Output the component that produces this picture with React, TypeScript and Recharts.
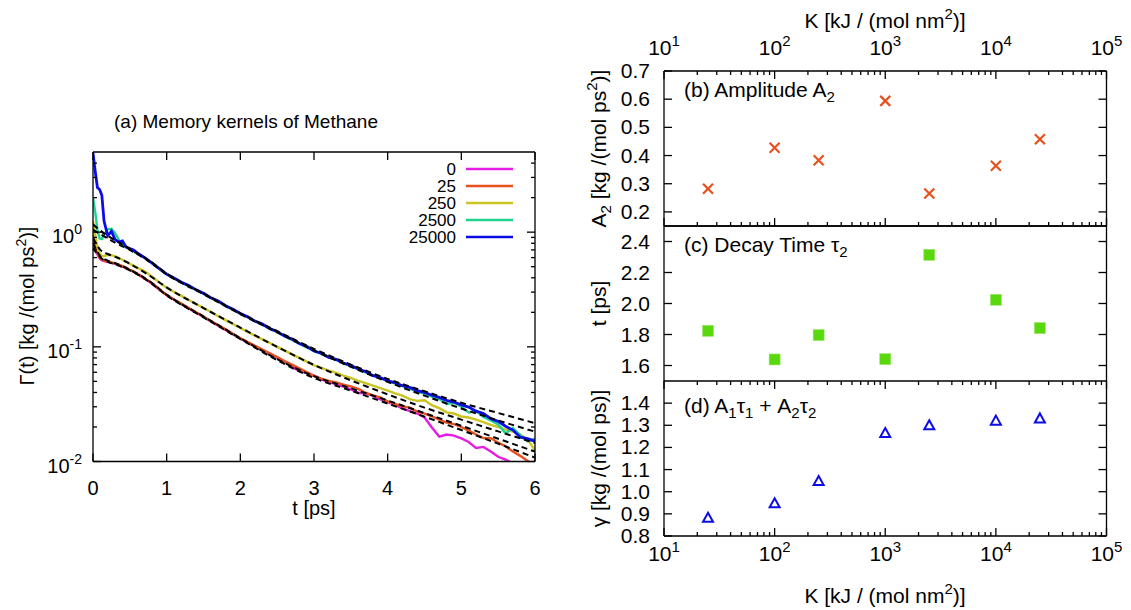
import { LineChart, Line, ScatterChart, Scatter, XAxis, YAxis } from 'recharts'

const INK = '#000000'
const FONT = '"Liberation Sans", Arial, Helvetica, sans-serif'

// (a) memory kernels on a shared time grid [ps]
const times = [
  0, 0.03, 0.06, 0.09, 0.12, 0.15, 0.2, 0.25, 0.3, 0.35, 0.4, 0.45, 0.5, 0.55, 0.6,
  0.7, 0.8, 0.9, 1.0,
  1.1, 1.2, 1.3, 1.4, 1.5, 1.6, 1.7, 1.8, 1.9, 2.0,
  2.1, 2.2, 2.3, 2.4, 2.5, 2.6, 2.7, 2.8, 2.9, 3.0,
  3.1, 3.2, 3.3, 3.4, 3.5, 3.6, 3.7, 3.8, 3.9, 4.0,
  4.1, 4.2, 4.3, 4.4, 4.5, 4.6, 4.7, 4.8, 4.9, 5.0,
  5.1, 5.2, 5.3, 5.4, 5.5, 5.6, 5.7, 5.8, 5.9, 6.0,
]

const kernel0 = [
  0.9, 0.74, 0.64, 0.59, 0.57, 0.56, 0.55, 0.54, 0.53, 0.515, 0.5, 0.485, 0.468, 0.452, 0.433,
  0.393, 0.357, 0.316, 0.281,
  0.257, 0.236, 0.216, 0.198, 0.182, 0.166, 0.153, 0.14, 0.129, 0.118,
  0.109, 0.101, 0.0935, 0.0862, 0.0805, 0.0738, 0.0672, 0.0615, 0.059, 0.056,
  0.052, 0.0492, 0.0472, 0.045, 0.0425, 0.0398, 0.0392, 0.0375, 0.0348, 0.033,
  0.0312, 0.029, 0.0275, 0.0262, 0.0242, 0.0198, 0.0165, 0.0172, 0.0168, 0.0159,
  0.0148, 0.0131, 0.0134, 0.0122, 0.011, 0.0104, 0.0096, 0.0092, 0.0088, 0.0085,
]
const kernel25 = [
  0.95, 0.78, 0.66, 0.6, 0.575, 0.565, 0.555, 0.545, 0.535, 0.52, 0.505, 0.49, 0.47, 0.455, 0.435,
  0.395, 0.36, 0.318, 0.283,
  0.259, 0.238, 0.218, 0.2, 0.184, 0.168, 0.155, 0.142, 0.13, 0.119,
  0.11, 0.102, 0.0948, 0.0878, 0.0815, 0.0752, 0.07, 0.0648, 0.0602, 0.0558,
  0.0528, 0.0505, 0.049, 0.0468, 0.0452, 0.043, 0.0398, 0.0378, 0.0362, 0.0335,
  0.0318, 0.0302, 0.0295, 0.0272, 0.0262, 0.0248, 0.0232, 0.0218, 0.0212, 0.02,
  0.0186, 0.0172, 0.016, 0.016, 0.0146, 0.0136, 0.0122, 0.0112, 0.0101, 0.0093,
]
const kernel250 = [
  1.25, 0.95, 0.74, 0.65, 0.615, 0.62, 0.63, 0.63, 0.615, 0.595, 0.575, 0.55, 0.53, 0.51, 0.49,
  0.455, 0.41, 0.365, 0.327,
  0.301, 0.278, 0.256, 0.236, 0.218, 0.201, 0.185, 0.171, 0.158, 0.146,
  0.135, 0.125, 0.116, 0.108, 0.1, 0.093, 0.086, 0.08, 0.0742, 0.0688,
  0.0655, 0.062, 0.0592, 0.056, 0.0535, 0.0505, 0.0482, 0.0458, 0.0436, 0.0416,
  0.0392, 0.0375, 0.035, 0.0338, 0.0342, 0.031, 0.0292, 0.0268, 0.0262, 0.0247,
  0.0242, 0.0232, 0.022, 0.0209, 0.02, 0.019, 0.0182, 0.0172, 0.0155, 0.0125,
]
const kernel2500 = [
  2.0, 1.5, 1.05, 0.88, 0.87, 0.95, 1.06, 1.07, 0.98, 0.86, 0.78, 0.74, 0.71, 0.68, 0.65,
  0.6, 0.535, 0.478, 0.428,
  0.395, 0.365, 0.338, 0.313, 0.29, 0.267, 0.249, 0.228, 0.211, 0.194,
  0.181, 0.167, 0.156, 0.144, 0.134, 0.124, 0.115, 0.107, 0.099, 0.092,
  0.0868, 0.0812, 0.0768, 0.0722, 0.068, 0.064, 0.06, 0.0568, 0.0535, 0.0505,
  0.0478, 0.0456, 0.0432, 0.0405, 0.0392, 0.0368, 0.035, 0.0318, 0.0325, 0.03,
  0.0268, 0.0275, 0.0245, 0.0228, 0.021, 0.0176, 0.0196, 0.017, 0.015, 0.0158,
]
const kernel25000 = [
  4.9, 3.4, 2.45, 2.35, 2.1, 1.25, 0.93, 1.02, 0.86, 0.82, 0.84, 0.74, 0.72, 0.7, 0.66,
  0.6, 0.54, 0.48, 0.43,
  0.398, 0.366, 0.342, 0.314, 0.293, 0.268, 0.251, 0.228, 0.213, 0.195,
  0.183, 0.167, 0.158, 0.144, 0.136, 0.124, 0.117, 0.107, 0.101, 0.092,
  0.088, 0.081, 0.078, 0.072, 0.069, 0.064, 0.061, 0.056, 0.054, 0.0505,
  0.0488, 0.0458, 0.0443, 0.0415, 0.0401, 0.0378, 0.0362, 0.0341, 0.033, 0.0312,
  0.0298, 0.0275, 0.0262, 0.0236, 0.0224, 0.0203, 0.0188, 0.0163, 0.0158, 0.015,
]

const kernelNames = ['0', '25', '250', '2500', '25000']
const kernelColors = ['#e41ce4', '#e8501e', '#cbc422', '#1ed490', '#0c0ce6']
const kernelValues = [kernel0, kernel25, kernel250, kernel2500, kernel25000]

// dashed two-exponential fits
const fitTimes = [0, 0.1, 0.2, 0.3, 0.5, 0.75, 1, 1.5, 2, 2.5, 3, 3.5, 4, 4.5, 5, 5.5, 6]
const fit0 = [0.73, 0.6, 0.55, 0.525, 0.465, 0.375, 0.281, 0.181, 0.117, 0.0765, 0.0535, 0.0415, 0.032, 0.0246, 0.0188, 0.0143, 0.0108]
const fit25 = [0.8, 0.615, 0.565, 0.535, 0.47, 0.38, 0.285, 0.184, 0.119, 0.078, 0.0555, 0.0435, 0.034, 0.0264, 0.0205, 0.0158, 0.0122]
const fit250 = [0.89, 0.7, 0.645, 0.61, 0.53, 0.425, 0.33, 0.218, 0.147, 0.1, 0.0695, 0.051, 0.0385, 0.0295, 0.0232, 0.0183, 0.0145]
const fit2500 = [1.05, 0.96, 0.88, 0.81, 0.7, 0.562, 0.428, 0.288, 0.193, 0.134, 0.093, 0.067, 0.0495, 0.0375, 0.029, 0.0228, 0.0182]
const fit25000 = [1.17, 1.03, 0.93, 0.85, 0.715, 0.572, 0.436, 0.292, 0.196, 0.137, 0.096, 0.07, 0.0525, 0.041, 0.0325, 0.0265, 0.0216]
const fitValues = [fit0, fit25, fit250, fit2500, fit25000]

// (b)-(d) fit parameters against spring constant K
const kValues = [25, 100, 250, 1000, 2500, 10000, 25000]
const amplitudeA2 = [0.282, 0.428, 0.383, 0.594, 0.265, 0.364, 0.458]
const decayTau2 = [1.824, 1.639, 1.796, 1.641, 2.314, 2.024, 1.841]
const frictionGamma = [0.882, 0.948, 1.048, 1.265, 1.3, 1.321, 1.331]

// ticks
const timeTicks = [0, 1, 2, 3, 4, 5, 6]
const kernelDecades = [0.01, 0.1, 1]
const kernelMinor = [0.02, 0.03, 0.04, 0.05, 0.06, 0.07, 0.08, 0.09, 0.2, 0.3, 0.4, 0.5, 0.6, 0.7, 0.8, 0.9, 2, 3, 4]
const kDecades = [10, 100, 1000, 10000, 100000]
const kMinor = [
  20, 30, 40, 50, 60, 70, 80, 90,
  200, 300, 400, 500, 600, 700, 800, 900,
  2000, 3000, 4000, 5000, 6000, 7000, 8000, 9000,
  20000, 30000, 40000, 50000, 60000, 70000, 80000, 90000,
]
const a2Ticks = [0.2, 0.3, 0.4, 0.5, 0.6, 0.7]
const tauTicks = [1.6, 1.8, 2.0, 2.2, 2.4]
const gammaTicks = [0.8, 0.9, 1.0, 1.1, 1.2, 1.3, 1.4]

const legendRows = [169, 186, 203, 220, 237]

const kernelRows = times.map((t, i) => {
  const row: Record<string, number> = { t }
  kernelNames.forEach((n, j) => {
    row['k' + n] = kernelValues[j][i]
  })
  return row
})
const fitRows = fitValues.map((vals) => fitTimes.map((t, i) => ({ t, v: vals[i] })))
const pointsOf = (vals: number[]) => kValues.map((k, i) => ({ k, v: vals[i] }))

const frameStroke = { stroke: INK, strokeWidth: 1.3 }

// top and right frame lines (mirror axes take no space)
function frameLines(xDomain: number[], yDomain: number[], xScale: any, yScale: any) {
  return [
    <XAxis key="fx" xAxisId="fx" orientation="top" mirror type="number" scale={xScale} domain={xDomain}
      allowDataOverflow tick={false} tickLine={false} axisLine={frameStroke} />,
    <YAxis key="fy" yAxisId="fy" orientation="right" mirror type="number" scale={yScale} domain={yDomain}
      allowDataOverflow tick={false} tickLine={false} axisLine={frameStroke} />,
  ]
}

const exponent = (v: number) => Math.round(Math.log10(v))
const mark = (key: string, x1: number, y1: number, x2: number, y2: number) => (
  <line key={key} x1={x1} y1={y1} x2={x2} y2={y2} stroke={INK} strokeWidth={1.3} />
)

// y tick: inward marks on both frame edges (gnuplot mirror), label for major values
const yTick = (left: number, right: number, major: number[], label: (v: number, x: number, y: number) => any) =>
  (p: any) => {
    const v = p.payload.value
    const isMajor = major.includes(v)
    const len = isMajor ? 8 : 4
    return (
      <g>
        {mark('l', left, p.y, left + len, p.y)}
        {mark('r', right, p.y, right - len, p.y)}
        {isMajor && label(v, p.x, p.y)}
      </g>
    )
  }

// x tick: inward marks on both frame edges, optional label
const xTick = (top: number, bottom: number, major: number[], label?: (v: number, x: number, y: number) => any) =>
  (p: any) => {
    const v = p.payload.value
    const isMajor = major.includes(v)
    const len = isMajor ? 8 : 4
    return (
      <g>
        {mark('t', p.x, top, p.x, top + len)}
        {mark('b', p.x, bottom, p.x, bottom - len)}
        {isMajor && label && label(v, p.x, p.y)}
      </g>
    )
  }

const powerLabel = (size: number, dy: number, anchor: string) => (v: number, x: number, y: number) => (
  <text x={x} y={y + dy} textAnchor={anchor} fontFamily={FONT} fontSize={size} fill={INK}>
    10<tspan dy={-9} fontSize={Math.round(size * 0.7)}>{exponent(v)}</tspan>
  </text>
)
const plainLabel = (v: number, x: number, y: number) => (
  <text x={x} y={y + 33.5} textAnchor="middle" fontFamily={FONT} fontSize={20} fill={INK}>{v}</text>
)
const decimalLabel = (v: number, x: number, y: number) => (
  <text x={x} y={y + 7} textAnchor="end" fontFamily={FONT} fontSize={21} fill={INK}>{v.toFixed(1)}</text>
)

const crossShape = (p: any) => (
  <g stroke="#e8501e" strokeWidth={2.2}>
    <line x1={p.cx - 5} y1={p.cy - 5} x2={p.cx + 5} y2={p.cy + 5} />
    <line x1={p.cx - 5} y1={p.cy + 5} x2={p.cx + 5} y2={p.cy - 5} />
  </g>
)
const squareShape = (p: any) => (
  <rect x={p.cx - 5.5} y={p.cy - 5.5} width={11} height={11} fill="#5ad80e" stroke="#9be86a" strokeWidth={0.6} />
)
const triangleShape = (p: any) => (
  <polygon points={`${p.cx},${p.cy - 5} ${p.cx + 5},${p.cy + 4} ${p.cx - 5},${p.cy + 4}`}
    fill="none" stroke="#0c0ce6" strokeWidth={2} />
)

type Seg = [string, ('sup' | 'sub')?]
function Rich({ segs, size }: { segs: Seg[]; size: number }) {
  const small = Math.round(size * 0.7)
  let shift = 0
  return (
    <>
      {segs.map(([s, kind], i) => {
        const target = kind === 'sup' ? -size * 0.42 : kind === 'sub' ? size * 0.25 : 0
        const dy = target - shift
        shift = target
        return (
          <tspan key={i} dy={dy} fontSize={kind ? small : size}>
            {s}
          </tspan>
        )
      })}
    </>
  )
}

// right-hand panels: chart 551 wide, plot from x=84 to x=526.5 (local)
const PANEL_W = 551
const PANEL_RIGHT = 24.5
const PANEL_LEFT_AXIS = 84
const kTicks = [...kDecades, ...kMinor]

function ParamPanel({ top, height, margin, values, domain, ticks, shape, axis }: any) {
  const plotTop = margin.top + (axis === 'top' ? 71 : 0)
  const plotBottom = height - margin.bottom - (axis === 'bottom' ? 45 : 0)
  const plotRight = PANEL_W - margin.right
  const xLabel =
    axis === 'top' ? powerLabel(21, -16, 'middle') : axis === 'bottom' ? powerLabel(21, 25, 'middle') : undefined
  return (
    <div style={{ position: 'absolute', left: 580, top }}>
      <ScatterChart width={PANEL_W} height={height} margin={margin}>
        <XAxis xAxisId="x" dataKey="k" orientation={axis === 'top' ? 'top' : 'bottom'} type="number" scale="log"
          domain={[10, 100000]} allowDataOverflow ticks={kTicks} interval={0}
          height={axis === 'top' ? 71 : axis === 'bottom' ? 45 : 0} tickSize={0} tickMargin={0}
          tickLine={false} axisLine={axis === 'top' ? false : frameStroke}
          tick={xTick(plotTop, plotBottom, kDecades, xLabel)} />
        <YAxis yAxisId="y" dataKey="v" type="number" domain={domain} allowDataOverflow ticks={ticks}
          interval={0} width={PANEL_LEFT_AXIS} tickSize={0} tickMargin={14} tickLine={false} axisLine={frameStroke}
          tick={yTick(PANEL_LEFT_AXIS, plotRight, ticks, decimalLabel)} />
        {frameLines([10, 100000], domain, 'log', 'linear')}
        {axis === 'top' && (
          <XAxis key="fb" xAxisId="fb" orientation="bottom" mirror type="number" scale="log" domain={[10, 100000]}
            allowDataOverflow tick={false} tickLine={false} axisLine={frameStroke} />
        )}
        <Scatter xAxisId="x" yAxisId="y" data={pointsOf(values)} shape={shape} isAnimationActive={false} />
      </ScatterChart>
    </div>
  )
}

export default function App() {
  return (
    <div style={{ position: 'absolute', left: 0, top: 0, width: 1131, height: 610, background: '#fff', overflow: 'hidden' }}>
      <div style={{ position: 'absolute', left: 0, top: 0 }}>
        <LineChart width={560} height={530} data={kernelRows} margin={{ top: 152, right: 25, bottom: 0, left: 0 }}>
          <XAxis xAxisId="x" dataKey="t" type="number" domain={[0, 6]} allowDataOverflow ticks={timeTicks}
            interval={0} height={68.5} tickSize={0} tickMargin={0} tickLine={false} axisLine={frameStroke}
            tick={xTick(152, 461.5, timeTicks, plainLabel)} />
          <YAxis yAxisId="y" type="number" scale="log" domain={[0.01, 5]} allowDataOverflow
            ticks={[...kernelDecades, ...kernelMinor]} interval={0} width={93} tickSize={0} tickMargin={11}
            tickLine={false} axisLine={frameStroke}
            tick={yTick(93, 535, kernelDecades, powerLabel(20, 11, 'end'))} />
          {frameLines([0, 6], [0.01, 5], 'linear', 'log')}
          {kernelNames.map((n, j) => (
            <Line key={n} xAxisId="x" yAxisId="y" dataKey={'k' + n} type="linear" stroke={kernelColors[j]}
              strokeWidth={j === 4 ? 2.8 : 2.4} dot={false} isAnimationActive={false} />
          ))}
          {fitRows.map((rows, j) => (
            <Line key={'fit' + j} xAxisId="x" yAxisId="y" data={rows} dataKey="v" type="monotone" stroke={INK}
              strokeWidth={2} strokeDasharray="6 4" dot={false} isAnimationActive={false} />
          ))}
        </LineChart>
      </div>

      <ParamPanel top={0} height={232} margin={{ top: 0, right: PANEL_RIGHT, bottom: 6, left: 0 }}
        values={amplitudeA2} domain={[0.15, 0.7]} ticks={a2Ticks} shape={crossShape} axis="top" />
      <ParamPanel top={220} height={167} margin={{ top: 6, right: PANEL_RIGHT, bottom: 6, left: 0 }}
        values={decayTau2} domain={[1.5, 2.5]} ticks={tauTicks} shape={squareShape} axis="none" />
      <ParamPanel top={375} height={206} margin={{ top: 6, right: PANEL_RIGHT, bottom: 0, left: 0 }}
        values={frictionGamma} domain={[0.8, 1.5]} ticks={gammaTicks} shape={triangleShape} axis="bottom" />

      <svg width={1131} height={610} style={{ position: 'absolute', left: 0, top: 0, pointerEvents: 'none' }}
        fontFamily={FONT} fill={INK}>
        <text x={246} y={128} textAnchor="middle" fontSize={19}>(a) Memory kernels of Methane</text>
        <text x={314} y={515} textAnchor="middle" fontSize={20}>t [ps]</text>
        <text transform="translate(34,306) rotate(-90)" textAnchor="middle">
          <Rich size={20} segs={[['Γ(t) [kg /(mol ps'], ['2', 'sup'], [')]']]} />
        </text>
        {kernelNames.map((n, j) => (
          <g key={n}>
            <text x={456} y={legendRows[j] + 6} textAnchor="end" fontSize={17}>{n}</text>
            <line x1={466} x2={513} y1={legendRows[j]} y2={legendRows[j]} stroke={kernelColors[j]} strokeWidth={2.5} />
          </g>
        ))}

        <text x={885} y={28} textAnchor="middle">
          <Rich size={21} segs={[['K [kJ / (mol nm'], ['2', 'sup'], [')]']]} />
        </text>
        <text x={885} y={603} textAnchor="middle">
          <Rich size={21} segs={[['K [kJ / (mol nm'], ['2', 'sup'], [')]']]} />
        </text>
        <text x={684} y={97}>
          <Rich size={21} segs={[['(b) Amplitude A'], ['2', 'sub']]} />
        </text>
        <text x={684} y={252}>
          <Rich size={21} segs={[['(c) Decay Time τ'], ['2', 'sub']]} />
        </text>
        <text x={684} y={413}>
          <Rich size={21} segs={[['(d) A'], ['1', 'sub'], ['τ'], ['1', 'sub'], [' + A'], ['2', 'sub'], ['τ'], ['2', 'sub']]} />
        </text>
        <text transform="translate(606,148.5) rotate(-90)" textAnchor="middle">
          <Rich size={21} segs={[['A'], ['2', 'sub'], [' [kg /(mol ps'], ['2', 'sup'], [')]']]} />
        </text>
        <text transform="translate(606,303.5) rotate(-90)" textAnchor="middle">
          <Rich size={21} segs={[['t [ps]']]} />
        </text>
        <text transform="translate(606,458.5) rotate(-90)" textAnchor="middle">
          <Rich size={21} segs={[['γ [kg /(mol ps)]']]} />
        </text>
      </svg>
    </div>
  )
}
